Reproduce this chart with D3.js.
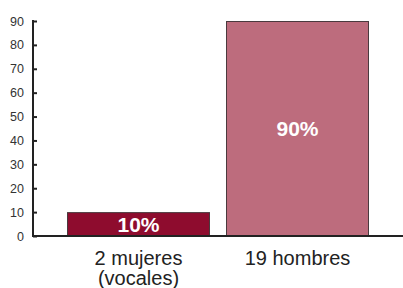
<!DOCTYPE html>
<html><head><meta charset="utf-8">
<script src="https://cdn.jsdelivr.net/npm/d3@7"></script>
<style>body{margin:0;background:#fff}svg{display:block}text{font-family:"Liberation Sans",Arial,sans-serif}</style>
</head><body>
<script>
const categories = [["2 mujeres","(vocales)"],["19 hombres"]];
const values = [10, 90];
const valueLabels = ["10%","90%"];
const colors = ["#8e0c2e","#bd6c7d"];
const yTicks = [0,10,20,30,40,50,60,70,80,90];

const W=403,H=288;
const svg=d3.select("body").append("svg").attr("width",W).attr("height",H);
const y=d3.scaleLinear().domain([0,90]).range([236,21]);
const x=d3.scaleBand().domain(d3.range(values.length)).range([67,369]).paddingInner(16/159).paddingOuter(0);

// bars
svg.selectAll("rect.bar").data(values).enter().append("rect")
 .attr("x",(d,i)=>x(i)+0.5).attr("y",d=>y(d)+0.5)
 .attr("width",x.bandwidth()-1).attr("height",d=>y(0)-y(d))
 .attr("fill",(d,i)=>colors[i]).attr("stroke","#4a3a3e").attr("stroke-width",1);

// value labels
svg.selectAll("text.val").data(values).enter().append("text")
 .attr("x",(d,i)=>x(i)+x.bandwidth()/2).attr("y",d=>(y(d)+y(0))/2+7.5)
 .attr("text-anchor","middle").attr("fill","#fff").attr("font-weight","bold").attr("font-size",21)
 .text((d,i)=>valueLabels[i]);

// y axis
const ax=svg.append("g").attr("transform","translate(33,0)")
 .call(d3.axisRight(y).tickValues(yTicks).tickSize(4).tickFormat(""));
ax.select(".domain").remove();
ax.selectAll(".tick line").attr("stroke","#222").attr("stroke-width",2);
svg.append("line").attr("x1",33).attr("x2",33).attr("y1",20).attr("y2",237).attr("stroke","#222").attr("stroke-width",2);
svg.selectAll("text.yt").data(yTicks).enter().append("text")
 .attr("x",24).attr("y",d=>y(d)+4.5).attr("text-anchor","end").attr("font-size",12.5).attr("fill","#333")
 .text(d=>d);

// x axis
svg.append("line").attr("x1",32).attr("x2",403).attr("y1",236).attr("y2",236).attr("stroke","#222").attr("stroke-width",2);

// category labels
categories.forEach((lines,i)=>{
  lines.forEach((t,j)=>{
    svg.append("text").attr("x",x(i)+x.bandwidth()/2).attr("y",265+j*20)
     .attr("text-anchor","middle").attr("font-size",20).attr("fill","#222").text(t);
  });
});
</script>
</body></html>
